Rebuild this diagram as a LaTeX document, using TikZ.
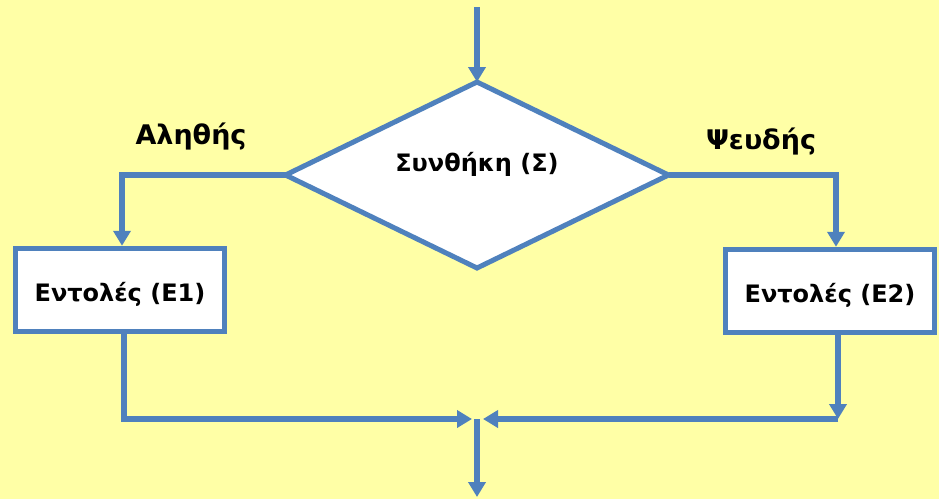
\documentclass[tikz,border=0pt]{standalone}
\usepackage{fontspec}
\setmainfont{DejaVu Sans}
\usetikzlibrary{shapes.geometric, positioning, arrows.meta}
\definecolor{flowblue}{HTML}{4F81BD}
\definecolor{paleyellow}{HTML}{FFFFA6}
\tikzset{
  flowline/.style={draw=flowblue, line width=5.5pt, -{Triangle[length=15pt,width=17pt]}},
  cmdbox/.style={draw=flowblue, fill=white, line width=5.5pt, minimum width=209pt,
    minimum height=83pt, inner sep=0pt, text height=23pt, text depth=0pt,
    font=\bfseries\fontsize{24}{28}\selectfont},
  condbox/.style={diamond, draw=flowblue, fill=white, line width=5pt, aspect=2.05,
    minimum width=383pt, minimum height=186pt, inner sep=0pt, outer sep=0pt,
    text height=17pt, text depth=25pt, font=\bfseries\fontsize{24}{28}\selectfont},
  branchlbl/.style={font=\bfseries\fontsize{27}{31}\selectfont}
}

\begin{document}
\begin{tikzpicture}[x=1pt, y=-1pt]

    % --- CANVAS ---
    \useasboundingbox[fill=paleyellow] (0,0) rectangle (939,499);

    % --- MAIN NODES ---
    \node[condbox] (cond) at (477,175) {Συνθήκη (Σ)};
    \node[cmdbox] (act1) at (120,290) {Εντολές (Ε1)};
    \node[cmdbox] (act2) at (830,291) {Εντολές (Ε2)};

    % --- BRANCH LABELS ---
    \node[branchlbl] (lbltrue) at (191,137) {Αληθής};
    \node[branchlbl] (lblfalse) at (761,142) {Ψευδής};

    % --- FREE ENDS ---
    \coordinate (start) at (477,7);
    \coordinate (join) at (477,419);
    \coordinate (finish) at (477,497);

    % --- ENTRY ---
    \draw[flowline] (start) -- (cond.north);

    % --- TRUE / FALSE BRANCHES ---
    \draw[flowline] (cond.west) -| ([xshift=2]act1.north);
    \draw[flowline] (cond.east) -| ([xshift=6]act2.north);

    % --- MERGE ---
    \draw[flowline] ([xshift=4]act1.south) |- ([xshift=-5]join);
    \draw[flowline] ([xshift=8]act2.south) -- ([xshift=8]act2.south |- join);
    \draw[flowline] ([xshift=8]act2.south |- join) -- ([xshift=6]join);

    % --- EXIT ---
    \draw[flowline] (join) -- (finish);

\end{tikzpicture}
\end{document}
